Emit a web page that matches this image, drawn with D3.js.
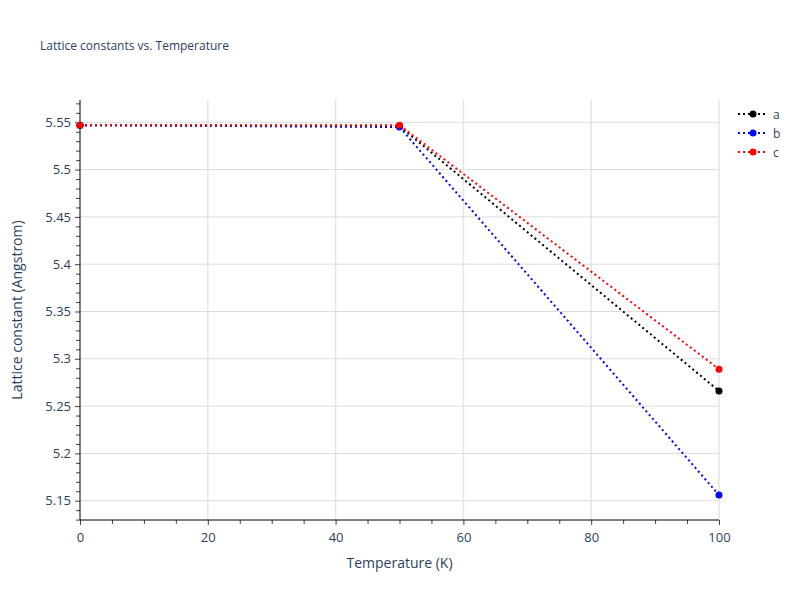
<!DOCTYPE html><html><head><script src="https://cdn.jsdelivr.net/npm/d3@7"></script>
<style>body{margin:0;background:#fff}text{font-family:"Open Sans",sans-serif}</style></head><body><svg id="c" width="800" height="600"></svg>
<script>
const temps=[0,50,100];
const seriesA=[5.547,5.546,5.266];
const seriesB=[5.547,5.545,5.156];
const seriesC=[5.547,5.547,5.289];
const series=[{name:"a",color:"#000",v:seriesA},{name:"b",color:"#0000ff",v:seriesB},{name:"c",color:"#ff0000",v:seriesC}];
const xTicks=[0,20,40,60,80,100];
const yTicks=[5.15,5.2,5.25,5.3,5.35,5.4,5.45,5.5,5.55];
const svg=d3.select("#c");
const L=80,R=719,T=100,B=520;
const x=d3.scaleLinear().domain([0,100]).range([L,R]);
const y=d3.scaleLinear().domain([5.15,5.55]).range([500.7,122.3]);
const g=svg.append("g");
g.selectAll(".gx").data(xTicks.slice(1)).enter().append("line").attr("x1",d=>x(d)).attr("x2",d=>x(d)).attr("y1",T).attr("y2",B).attr("stroke","#e5e5e5").attr("stroke-width",1.5);
g.selectAll(".gy").data(yTicks).enter().append("line").attr("x1",L).attr("x2",R).attr("y1",d=>y(d)).attr("y2",d=>y(d)).attr("stroke","#dcdcdc");
const fmt=d=>String(+d.toFixed(2));
const xa=svg.append("g").attr("transform",`translate(0,${B})`).call(d3.axisBottom(x).tickValues(xTicks).tickSize(5).tickSizeOuter(0).tickPadding(8));
svg.append("g").attr("transform",`translate(0,${B})`).call(d3.axisBottom(x).tickValues(d3.range(5,100,5).filter(d=>d%20)).tickSize(4).tickFormat("")).select(".domain").remove();
const ya=svg.append("g").attr("transform",`translate(${L},0)`).call(d3.axisLeft(y).tickValues(yTicks).tickFormat(fmt).tickSize(5).tickPadding(4));
svg.append("g").attr("transform",`translate(${L},0)`).call(d3.axisLeft(y).tickValues(d3.range(5.13,5.575,0.01).filter(d=>Math.abs(d*20-Math.round(d*20))>0.01)).tickSize(4).tickFormat("")).select(".domain").remove();
svg.selectAll(".tick text").attr("fill","#2a3f5f").style("font-size","13px");
svg.selectAll(".tick line").attr("stroke","#444");
svg.selectAll(".domain").remove();
svg.append("line").attr("x1",L).attr("x2",R).attr("y1",B).attr("y2",B).attr("stroke","#000");
svg.append("line").attr("x1",L).attr("x2",L).attr("y1",T).attr("y2",B).attr("stroke","#000");
const line=d3.line().x((d,i)=>x(temps[i])).y(d=>y(d));
series.forEach(s=>{
 svg.append("path").attr("d",line(s.v)).attr("fill","none").attr("stroke",s.color).attr("stroke-width",2).attr("stroke-dasharray","2,3");
 svg.selectAll(null).data(s.v).enter().append("circle").attr("cx",(d,i)=>x(temps[i])).attr("cy",d=>y(d)).attr("r",3.5).attr("fill",s.color);
});
const lg=svg.append("g").attr("transform","translate(738,114)");
series.forEach((s,i)=>{
 const r=lg.append("g").attr("transform",`translate(0,${i*19})`);
 r.append("line").attr("x1",0).attr("x2",30).attr("stroke",s.color).attr("stroke-width",2).attr("stroke-dasharray","2,3");
 r.append("circle").attr("cx",15).attr("r",3.5).attr("fill",s.color);
 r.append("text").attr("x",35).attr("y",4.5).text(s.name).attr("fill","#2a3f5f").style("font-size","12px");
});
svg.append("text").attr("x",40).attr("y",50).text("Lattice constants vs. Temperature").attr("fill","#2a3f5f").style("font-size","12px");
svg.append("text").attr("x",(L+R)/2).attr("y",568).attr("text-anchor","middle").text("Temperature (K)").attr("fill","#2a3f5f").style("font-size","14px");
svg.append("text").attr("transform",`translate(22,${(T+B)/2}) rotate(-90)`).attr("text-anchor","middle").text("Lattice constant (Angstrom)").attr("fill","#2a3f5f").style("font-size","14px");
</script></body></html>
